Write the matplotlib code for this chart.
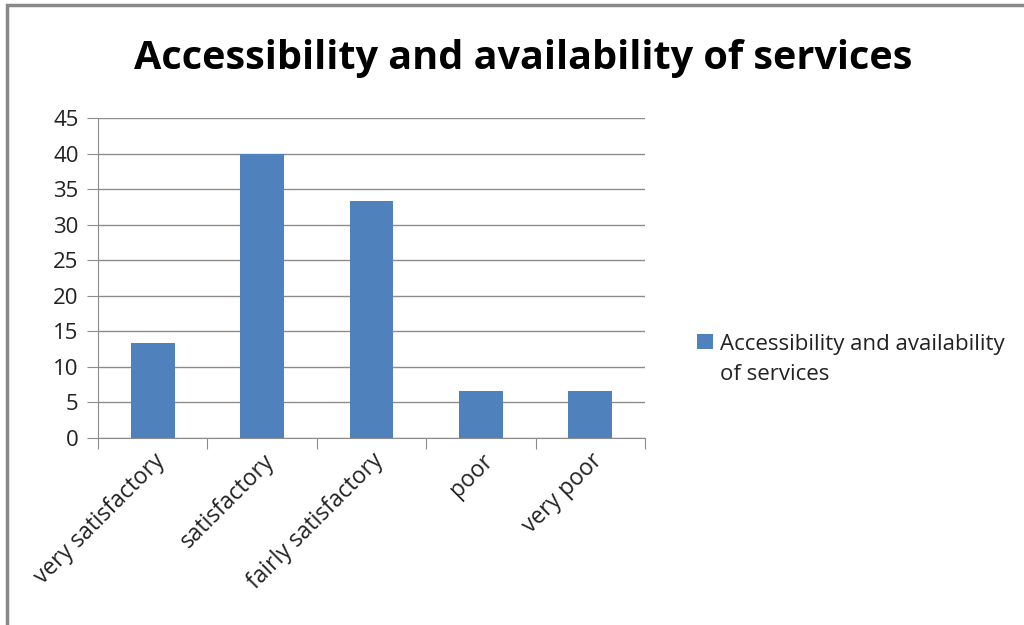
import matplotlib.pyplot as plt
from matplotlib.patches import Rectangle

categories = ["very satisfactory", "satisfactory", "fairly satisfactory", "poor", "very poor"]
values = [13.33, 40.0, 33.33, 6.67, 6.67]
series_name = "Accessibility and availability\nof services"
title = "Accessibility and availability of services"

plt.rcParams['font.family'] = ['Open Sans', 'DejaVu Sans']

fig = plt.figure(figsize=(10.24, 6.25), dpi=100)
W, H = 1024, 625
ax = fig.add_axes([98 / W, 1 - 438 / H, (645 - 98) / W, (438 - 118) / H])

x = list(range(len(categories)))
ax.bar(x, values, width=0.4, color="#4f81bd", zorder=3, label=series_name)

ax.set_xlim(-0.5, len(categories) - 0.5)
ax.set_ylim(0, 45)
ax.set_yticks(range(0, 46, 5))
ax.yaxis.grid(True, color="#8c8c8c", linewidth=1.0, zorder=0)

# ticks on the category boundaries, labels at the centres
ax.set_xticks([i - 0.5 for i in range(len(categories) + 1)])
ax.set_xticklabels([])
ax.set_xticks(x, minor=True)
ax.set_xticklabels(categories, minor=True, rotation=45, ha="right",
                   rotation_mode="anchor", fontsize=16.5, color="#222222")
ax.tick_params(axis="x", which="minor", length=0, pad=8)
ax.tick_params(axis="x", which="major", length=8, color="#8c8c8c", direction="out")
ax.tick_params(axis="y", length=8, color="#8c8c8c", labelsize=16,
               labelcolor="#222222", pad=6)

for side in ["top", "right"]:
    ax.spines[side].set_visible(False)
ax.spines["left"].set_color("#8c8c8c")
ax.spines["bottom"].set_color("#8c8c8c")

fig.text(523 / W, 1 - 58 / H, title, ha="center", va="center",
         fontsize=28.5, fontweight="bold", color="black")

leg = fig.legend(loc="upper left", bbox_to_anchor=(677 / W, 1 - 314 / H),
                 frameon=False, fontsize=16, handlelength=0.7, handleheight=0.7,
                 handletextpad=0.35, labelcolor="#222222")
for t in leg.get_texts():
    t.set_linespacing(1.55)
# put the colour box next to the first line of the label
box = leg.legend_handles[0]
box.set_y(box.get_y() + 13)

# outer frame of the chart area
fig.patches.append(Rectangle((7 / W, -0.1), 1.1, 1 - 5 / H + 0.1, transform=fig.transFigure,
                             fill=False, edgecolor="#888888", linewidth=2.5))

fig.savefig("out.png", dpi=100)
